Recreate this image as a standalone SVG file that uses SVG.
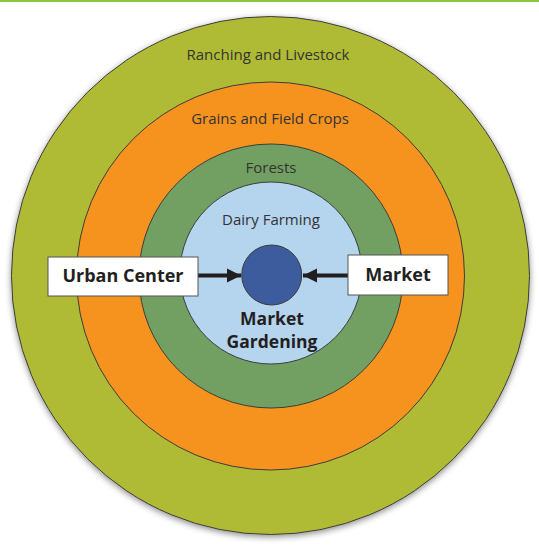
<svg xmlns="http://www.w3.org/2000/svg" width="539" height="547" viewBox="0 0 539 547">
  <style>
    .ring { stroke: #3d3d3d; stroke-width: 1; }
    .lbl { font-family: "Open Sans", "Liberation Sans", sans-serif; font-size: 15px; fill: #333333; text-anchor: middle; }
    .bold { font-family: "Open Sans", "Liberation Sans", sans-serif; font-weight: bold; font-size: 18px; fill: #231f20; text-anchor: middle; }
    .bold2 { font-family: "Open Sans", "Liberation Sans", sans-serif; font-weight: bold; font-size: 17.5px; fill: #231f20; text-anchor: middle; }
    .box { fill: #ffffff; stroke: #555555; stroke-width: 1; }
    .arrow { stroke: #231f20; stroke-width: 4; fill: none; }
  </style>
  <defs>
    <filter id="shadow" x="-10%" y="-10%" width="120%" height="120%">
      <feDropShadow dx="0" dy="2" stdDeviation="3" flood-color="#000000" flood-opacity="0.45"/>
    </filter>
    <marker id="ah" viewBox="0 0 10 10" refX="10" refY="5" markerWidth="3.6" markerHeight="3.8" orient="auto" markerUnits="strokeWidth">
      <path d="M0,0 L10,5 L0,10 Z" fill="#231f20"/>
    </marker>
  </defs>
  <rect x="0" y="0" width="539" height="2" fill="#8cc63f"/>
  <g id="ranching">
    <circle class="ring" cx="270.5" cy="275.5" r="259" fill="#b0bb36" filter="url(#shadow)"/>
    <text class="lbl" x="268" y="60">Ranching and Livestock</text>
  </g>
  <g id="grains">
    <circle class="ring" cx="270.5" cy="276" r="194" fill="#f6921e"/>
    <text class="lbl" x="270" y="124">Grains and Field Crops</text>
  </g>
  <g id="forests">
    <circle class="ring" cx="271" cy="276" r="132" fill="#72a062"/>
    <text class="lbl" x="271" y="173">Forests</text>
  </g>
  <g id="dairy">
    <circle class="ring" cx="271" cy="273" r="91" fill="#b5d4ee"/>
    <text class="lbl" x="271" y="225">Dairy Farming</text>
  </g>
  <g id="market-gardening">
    <circle class="ring" cx="271.7" cy="275" r="30" fill="#3c5c9e"/>
    <text class="bold2" x="272" y="325">Market</text>
    <text class="bold2" x="272" y="348">Gardening</text>
  </g>
  <g id="connectors">
    <line class="arrow" x1="198" y1="275.5" x2="241" y2="275.5" marker-end="url(#ah)"/>
    <line class="arrow" x1="348" y1="275.5" x2="303" y2="275.5" marker-end="url(#ah)"/>
  </g>
  <g id="urban-center">
    <rect class="box" x="48" y="257" width="150" height="39"/>
    <text class="bold" x="123" y="282">Urban Center</text>
  </g>
  <g id="market">
    <rect class="box" x="348" y="255" width="100" height="40"/>
    <text class="bold" x="398" y="281">Market</text>
  </g>
</svg>
